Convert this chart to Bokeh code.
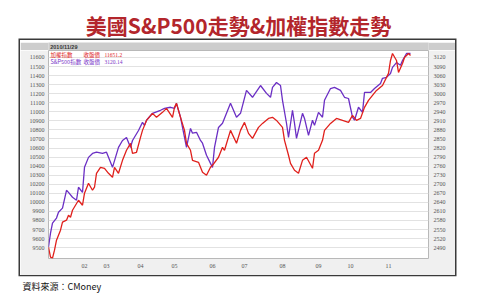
from bokeh.plotting import figure
from bokeh.models import Range1d, LinearAxis, FixedTicker, Spacer
from bokeh.layouts import column, row
from bokeh.core.properties import value
from bokeh.embed import file_html
from bokeh.resources import INLINE

# ---------------- data ----------------
twse_day = [0, 1, 2, 3, 4, 5, 6, 7, 9, 10, 11, 12, 15, 17, 18, 20, 22, 23, 24, 26, 28, 30, 32, 33, 35,
            37, 39, 41, 42, 44, 46, 47, 49, 52, 54, 57, 59, 62, 63, 64, 66, 68, 69, 71, 72, 75, 77, 79,
            81, 82, 85, 87, 88, 91, 94, 96, 98, 100, 102, 105, 107, 110, 112, 114, 117, 118, 120, 121,
            123, 125, 127, 129, 132, 133, 135, 137, 138, 141, 144, 147, 150, 152, 154, 156, 158, 160,
            162, 164, 167, 170, 171, 172, 174, 175, 177, 178, 180, 181]
twse_val = [9505, 9395, 9384, 9472, 9582, 9637, 9693, 9781, 9803, 9858, 9836, 9913, 10023, 9968, 10101,
            10211, 10134, 10167, 10321, 10387, 10376, 10321, 10277, 10387, 10321, 10464, 10575, 10652,
            10542, 10553, 10718, 10795, 10905, 10983, 10939, 10994, 11038, 10939, 11049, 11093, 10939,
            10795, 10652, 10575, 10464, 10442, 10332, 10299, 10387, 10409, 10498, 10608, 10575, 10795,
            10652, 10795, 10883, 10762, 10707, 10828, 10872, 10927, 10939, 10905, 10828, 10685, 10520,
            10431, 10354, 10321, 10464, 10498, 10376, 10542, 10575, 10685, 10795, 10872, 10927, 10905,
            10883, 10960, 10905, 10927, 11049, 11126, 11181, 11236, 11291, 11424, 11567, 11644, 11567,
            11435, 11534, 11600, 11644, 11622]

spx_day = [0, 1, 2, 4, 5, 7, 9, 10, 12, 14, 15, 17, 18, 20, 22, 24, 27, 29, 31, 32, 35, 37, 39, 41, 42,
           45, 47, 48, 49, 52, 56, 58, 61, 63, 64, 66, 67, 69, 71, 72, 74, 76, 77, 79, 81, 82, 83, 85,
           87, 91, 94, 96, 99, 102, 106, 109, 111, 112, 114, 116, 117, 119, 120, 122, 123, 124, 127,
           128, 130, 132, 133, 135, 137, 138, 141, 143, 146, 148, 150, 152, 153, 155, 157, 158, 161,
           163, 166, 167, 169, 171, 172, 174, 176, 177, 179, 181]
spx_val = [2492, 2538, 2571, 2588, 2607, 2621, 2680, 2673, 2657, 2647, 2690, 2673, 2756, 2789, 2802,
           2806, 2802, 2806, 2773, 2756, 2822, 2845, 2855, 2822, 2845, 2878, 2905, 2895, 2912, 2935,
           2945, 2951, 2955, 2951, 2968, 2922, 2888, 2822, 2885, 2869, 2872, 2845, 2836, 2796, 2769,
           2756, 2822, 2888, 2902, 2968, 2922, 2935, 3011, 2988, 3027, 3001, 2988, 3021, 3037, 3027,
           2978, 2902, 2855, 2945, 2902, 2852, 2935, 2918, 2862, 2912, 2895, 2938, 2922, 2978, 3017,
           3021, 3011, 2988, 2984, 2922, 2912, 2955, 2938, 3004, 3004, 3017, 3034, 3051, 3054, 3067,
           3087, 3103, 3094, 3110, 3133, 3133]

left_ticks = [9500, 9600, 9700, 9800, 9900, 10000, 10100, 10200, 10300, 10400, 10500,
              10600, 10700, 10800, 10900, 11000, 11100, 11200, 11300, 11400, 11500, 11600]
right_ticks = [2490, 2520, 2550, 2580, 2610, 2640, 2670, 2700, 2730, 2760, 2790,
               2820, 2850, 2880, 2910, 2940, 2970, 3000, 3030, 3060, 3090, 3120]
month_days = [18, 29, 46, 63, 82, 98, 117, 135, 151, 170]
month_labels = ["02", "03", "04", "05", "06", "07", "08", "09", "10", "11"]

title_text = "美國S&P500走勢&加權指數走勢"
source_text = "資料來源：CMoney"
date_text = "2010/11/29"
legend_names = ["加權指數", "S&P500指數"]
legend_kinds = ["收盤價", "收盤價"]
legend_values = ["11651.2", "3120.14"]
legend_colors = ["#e02424", "#7a36c8"]

CJK = "Noto Sans CJK TC"


def blank(w, h, xr, yr, bg):
    f = figure(width=w, height=h, output_backend="svg", toolbar_location=None,
               x_range=Range1d(*xr), y_range=Range1d(*yr),
               x_axis_location=None, y_axis_location=None,
               min_border=0, min_border_left=0, min_border_right=0,
               min_border_top=0, min_border_bottom=0)
    f.grid.grid_line_color = None
    f.outline_line_color = None
    f.background_fill_color = bg
    f.border_fill_color = bg
    return f


# ---- title strip (page y 0..39) ----
t = blank(479, 39, (0, 479), (39, 0), "white")
t.text(x=[238], y=[24], text=[title_text], text_font=value(CJK), text_font_size="21px",
       text_font_style="bold", text_color="#b3262c", text_align="center", text_baseline="middle")

# ---- grey header of the chart box (page y 40..50) ----
h = blank(435, 10, (20, 455), (50, 40), "#cdcdcd")
h.text(x=[22], y=[44.6], text=[date_text], text_font=value("Liberation Sans"), text_font_size="5.5px",
       text_font_style="bold", text_color="#333333", text_align="left", text_baseline="middle")

# ---- main chart (page x 20..455, y 50..275) ----
p = figure(width=435, height=225, output_backend="svg", toolbar_location=None,
           x_range=Range1d(0, 190), y_range=Range1d(9380, 11677),
           min_border_left=28, min_border_right=27, min_border_top=0, min_border_bottom=17)
p.extra_y_ranges = {"spx": Range1d(2454, 3143)}
p.background_fill_color = "white"
p.border_fill_color = "#f0f0f0"
p.outline_line_color = "#b8b8b8"
p.outline_line_width = 1

p.xgrid.grid_line_color = None
p.ygrid.ticker = FixedTicker(ticks=left_ticks)
p.ygrid.grid_line_color = "#e2e2e2"
p.ygrid.grid_line_width = 1


def style_axis(ax, standoff):
    ax.axis_line_color = None
    ax.major_tick_line_color = None
    ax.minor_tick_line_color = None
    ax.major_tick_out = 0
    ax.major_tick_in = 0
    ax.minor_tick_out = 0
    ax.minor_tick_in = 0
    ax.major_label_text_font = "Liberation Serif"
    ax.major_label_text_font_size = "6px"
    ax.major_label_text_color = "#555555"
    ax.major_label_standoff = standoff


p.yaxis[0].ticker = FixedTicker(ticks=left_ticks)
style_axis(p.yaxis[0], 4)
p.xaxis[0].ticker = FixedTicker(ticks=month_days)
p.xaxis[0].major_label_overrides = {d: s for d, s in zip(month_days, month_labels)}
style_axis(p.xaxis[0], 5)

rax = LinearAxis(y_range_name="spx", ticker=FixedTicker(ticks=right_ticks))
style_axis(rax, 5)
p.add_layout(rax, "right")

p.line(spx_day, spx_val, y_range_name="spx", line_color="#6b2fc4", line_width=1.3)
p.line(twse_day, twse_val, line_color="#e0201c", line_width=1.3)

# legend text block in the top-left corner of the plot area
leg_y = [11625, 11552]
for col_x, texts, fnt in ((1, legend_names, CJK), (17.5, legend_kinds, CJK),
                          (28, legend_values, "Liberation Serif")):
    p.text(x=[col_x, col_x], y=leg_y, text=texts, text_color=legend_colors,
           text_font=value(fnt), text_font_size="5.5px",
           text_align="left", text_baseline="middle")

box = column(h, p, spacing=0, styles={"box-shadow": "0 0 0 1.5px #3a3a3a"})

# ---- source caption (page y 276..303) ----
c = blank(479, 27, (0, 479), (303, 276), "white")
c.text(x=[22], y=[285.5], text=[source_text], text_font=value(CJK), text_font_size="9px",
       text_color="#111111", text_align="left", text_baseline="middle")

page = column(t, Spacer(width=479, height=1),
              row(Spacer(width=20, height=235), box, spacing=0),
              Spacer(width=479, height=1), c, spacing=0)

open("out.html", "w").write(file_html(page, INLINE))
